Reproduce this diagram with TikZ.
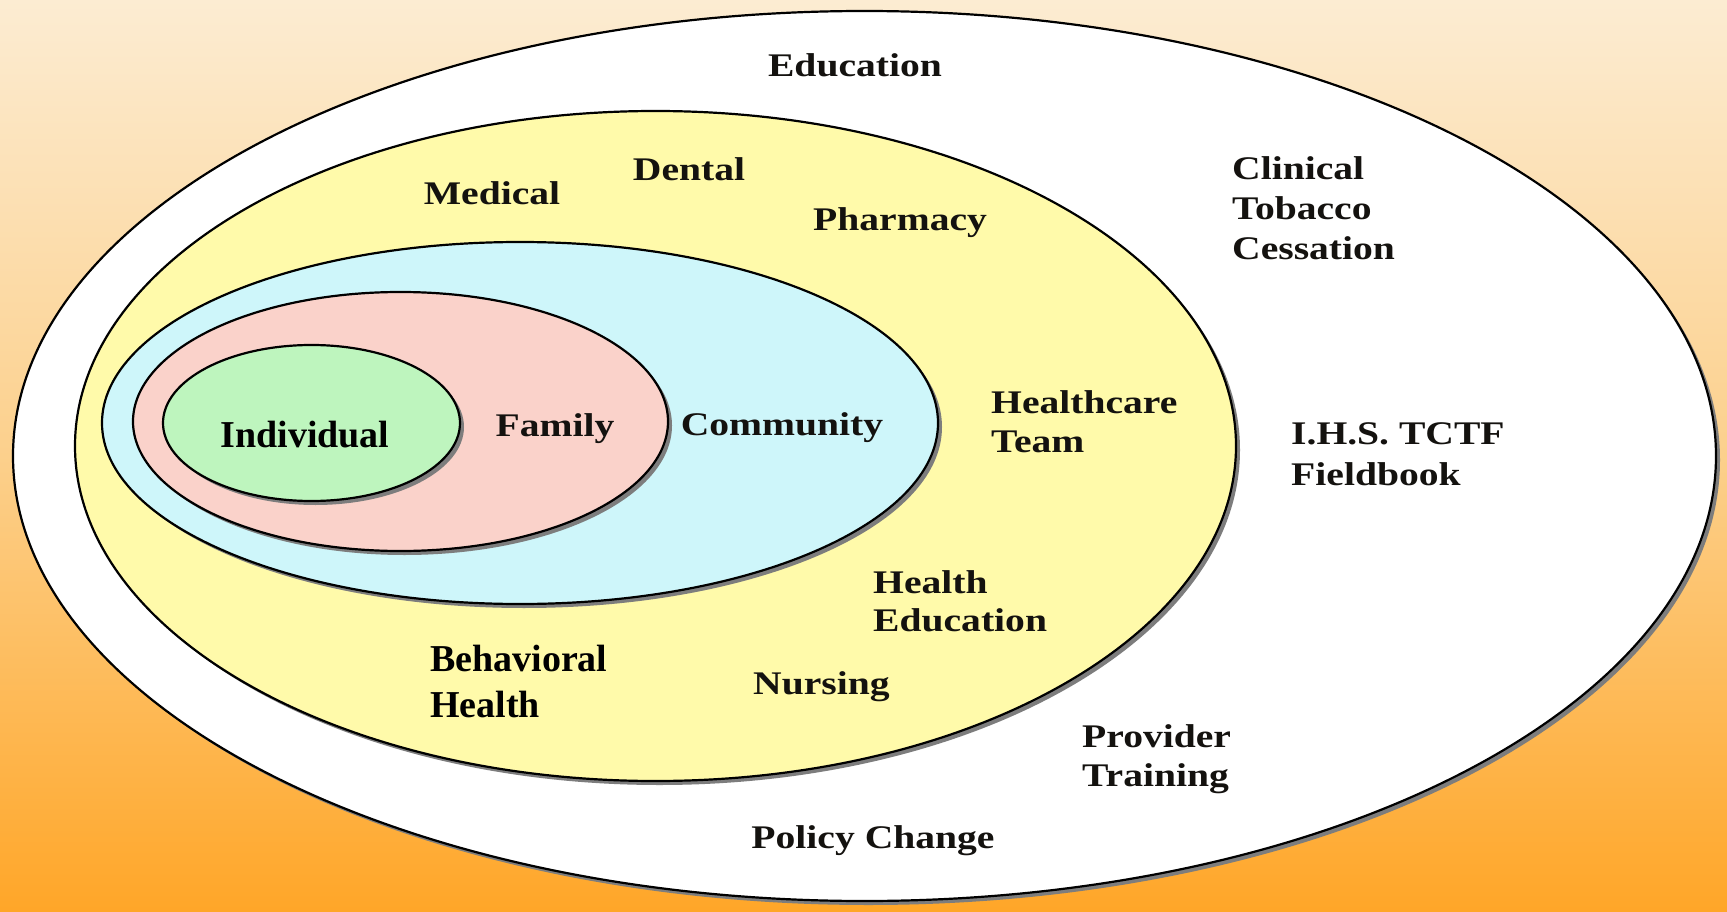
\documentclass[tikz,border=0pt]{standalone}
\usepackage{fontspec}
\setmainfont{Liberation Serif}
\newfontfamily\widefont[FakeStretch=1.2]{Liberation Serif}
\usetikzlibrary{shapes.geometric,shadows}
\definecolor{bgtop}{RGB}{252,236,210}
\definecolor{bgmid}{RGB}{252,208,140}
\definecolor{bgbot}{RGB}{255,166,40}
\definecolor{ringyellow}{RGB}{255,250,170}
\definecolor{ringcyan}{RGB}{206,246,250}
\definecolor{ringpink}{RGB}{250,210,202}
\definecolor{ringgreen}{RGB}{190,245,190}
\definecolor{shadowgray}{RGB}{125,125,125}
\definecolor{labelink}{RGB}{20,18,15}
\tikzset{
  ring/.style={ellipse, draw=black, line width=2.2pt, inner sep=0pt,
    drop shadow={shadow xshift=4pt, shadow yshift=-4pt, opacity=1, fill=shadowgray}},
  lab/.style={inner sep=0pt, anchor=base, text=labelink,
    font=\widefont\bfseries\fontsize{33}{39}\selectfont},
  labw/.style={lab, anchor=base west},
  bigw/.style={inner sep=0pt, anchor=base west, text=black,
    font=\bfseries\fontsize{38}{44}\selectfont},
  big/.style={bigw, anchor=base}
}
\begin{document}
\begin{tikzpicture}[x=1pt,y=-1pt]
\useasboundingbox (0,0) rectangle (1727,912);
\shade[top color=bgtop, bottom color=bgbot, middle color=bgmid] (0,0) rectangle (1727,912);
% rings
\node[ring, fill=white, minimum width=1703pt, minimum height=890pt] (outer) at (864.5,456) {};
\node[ring, fill=ringyellow, minimum width=1161pt, minimum height=670pt] (services) at (655.5,446) {};
\node[ring, fill=ringcyan, minimum width=836pt, minimum height=362pt] (community) at (520,423) {};
\node[ring, fill=ringpink, minimum width=535pt, minimum height=259pt] (family) at (400.5,421.5) {};
\node[ring, fill=ringgreen, minimum width=297pt, minimum height=156pt] (individual) at (311.5,423) {};
% outer ring labels
\node[lab] (education) at (855,77) {Education};
\node[labw] (clin1) at (1232,180) {Clinical};
\node[labw] (clin2) at (1232,220) {Tobacco};
\node[labw] (clin3) at (1232,259) {Cessation};
\node[labw] (ihs1) at (1291,444) {I.H.S. TCTF};
\node[labw] (ihs2) at (1291,485) {Fieldbook};
\node[labw] (prov1) at (1082,747) {Provider};
\node[labw] (prov2) at (1082,786) {Training};
\node[lab] (policy) at (873,848) {Policy Change};
% yellow ring labels
\node[lab] (medical) at (492,205) {Medical};
\node[lab] (dental) at (689,181) {Dental};
\node[labw] (pharmacy) at (813,230) {Pharmacy};
\node[labw] (hct1) at (991,413) {Healthcare};
\node[labw] (hct2) at (991,452) {Team};
\node[labw] (hed1) at (873,593) {Health};
\node[labw] (hed2) at (873,631) {Education};
\node[labw] (nursing) at (753,694) {Nursing};
\node[bigw] (beh1) at (430,671) {Behavioral};
\node[bigw] (beh2) at (430,717) {Health};
% inner labels
\node[lab] (communitylab) at (782,435) {Community};
\node[lab] (familylab) at (555,436) {Family};
\node[big] (individuallab) at (305,447) {Individual};
\end{tikzpicture}
\end{document}
